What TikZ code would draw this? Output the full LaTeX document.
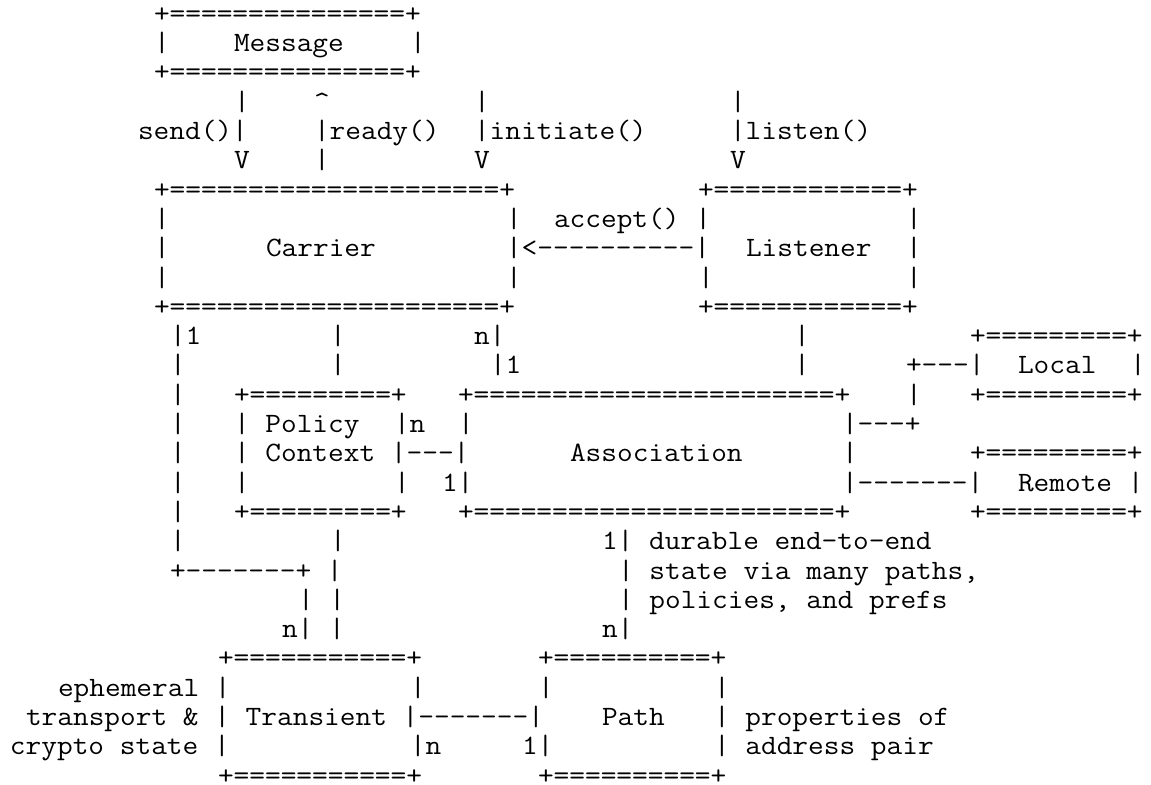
\documentclass[tikz,border=0pt]{standalone}
\usepackage{graphicx}
\frenchspacing

% repeat a character run (dashes are split so no dash ligatures form)
\ExplSyntaxOn
\cs_new:Npn \hrun #1#2 { \prg_replicate:nn {#1} {#2} }
\ExplSyntaxOff
\newcommand\eqs[1]{\hrun{#1}{=}}
\newcommand\dashes[1]{\hrun{#1}{-{}}}

% one run of monospaced text, placed on a character grid:
% #1 name, #2 column, #3 row, #4 text
\tikzset{
  seg/.style={anchor=base west, inner sep=0pt, outer sep=0pt,
              font=\ttfamily\fontsize{14pt}{14pt}\selectfont, text=black}
}
\newcommand\asciiseg[4]{%
  \node[seg] (#1) at ({10+16*(#2)},{22.4+29.3*(#3)}) {\scalebox{1.0884}[1]{#4}};}

\begin{document}
\begin{tikzpicture}[x=0.5pt,y=-0.5pt]
\fill[white] (0,0) rectangle (1151,785);
\useasboundingbox (0,0) rectangle (1151,785);

% Message
\asciiseg{t0-9}{9}{0}{+\eqs{15}+}
\asciiseg{t1-9}{9}{1}{|}
\asciiseg{t1-14}{14}{1}{Message}
\asciiseg{t1-25}{25}{1}{|}
\asciiseg{t2-9}{9}{2}{+\eqs{15}+}

% calls between Message, Carrier and Listener
\asciiseg{t3-14}{14}{3}{|}
\asciiseg{t3-19}{19}{3}{\textasciicircum}
\asciiseg{t3-29}{29}{3}{|}
\asciiseg{t3-45}{45}{3}{|}
\asciiseg{t4-8}{8}{4}{send()|}
\asciiseg{t4-19}{19}{4}{|ready()}
\asciiseg{t4-29}{29}{4}{|initiate()}
\asciiseg{t4-45}{45}{4}{|listen()}
\asciiseg{t5-14}{14}{5}{V}
\asciiseg{t5-19}{19}{5}{|}
\asciiseg{t5-29}{29}{5}{V}
\asciiseg{t5-45}{45}{5}{V}

% Carrier and Listener
\asciiseg{t6-9}{9}{6}{+\eqs{21}+}
\asciiseg{t6-43}{43}{6}{+\eqs{12}+}
\asciiseg{t7-9}{9}{7}{|}
\asciiseg{t7-31}{31}{7}{|}
\asciiseg{t7-34}{34}{7}{accept() |}
\asciiseg{t7-56}{56}{7}{|}
\asciiseg{t8-9}{9}{8}{|}
\asciiseg{t8-16}{16}{8}{Carrier}
\asciiseg{t8-31}{31}{8}{|<\dashes{10}|}
\asciiseg{t8-46}{46}{8}{Listener}
\asciiseg{t8-56}{56}{8}{|}
\asciiseg{t9-9}{9}{9}{|}
\asciiseg{t9-31}{31}{9}{|}
\asciiseg{t9-43}{43}{9}{|}
\asciiseg{t9-56}{56}{9}{|}
\asciiseg{t10-9}{9}{10}{+\eqs{21}+}
\asciiseg{t10-43}{43}{10}{+\eqs{12}+}

% links down to Policy Context, Association, Local
\asciiseg{t11-10}{10}{11}{|1}
\asciiseg{t11-20}{20}{11}{|}
\asciiseg{t11-29}{29}{11}{n|}
\asciiseg{t11-49}{49}{11}{|}
\asciiseg{t11-60}{60}{11}{+\eqs{9}+}
\asciiseg{t12-10}{10}{12}{|}
\asciiseg{t12-20}{20}{12}{|}
\asciiseg{t12-30}{30}{12}{|1}
\asciiseg{t12-49}{49}{12}{|}
\asciiseg{t12-56}{56}{12}{+\dashes{3}|}
\asciiseg{t12-63}{63}{12}{Local}
\asciiseg{t12-70}{70}{12}{|}

% Policy Context, Association, Remote
\asciiseg{t13-10}{10}{13}{|}
\asciiseg{t13-14}{14}{13}{+\eqs{9}+}
\asciiseg{t13-28}{28}{13}{+\eqs{23}+}
\asciiseg{t13-56}{56}{13}{|}
\asciiseg{t13-60}{60}{13}{+\eqs{9}+}
\asciiseg{t14-10}{10}{14}{|}
\asciiseg{t14-14}{14}{14}{| Policy}
\asciiseg{t14-24}{24}{14}{|n}
\asciiseg{t14-28}{28}{14}{|}
\asciiseg{t14-52}{52}{14}{|\dashes{3}+}
\asciiseg{t15-10}{10}{15}{|}
\asciiseg{t15-14}{14}{15}{| Context |\dashes{3}|}
\asciiseg{t15-35}{35}{15}{Association}
\asciiseg{t15-52}{52}{15}{|}
\asciiseg{t15-60}{60}{15}{+\eqs{9}+}
\asciiseg{t16-10}{10}{16}{|}
\asciiseg{t16-14}{14}{16}{|}
\asciiseg{t16-24}{24}{16}{|}
\asciiseg{t16-27}{27}{16}{1|}
\asciiseg{t16-52}{52}{16}{|\dashes{7}|}
\asciiseg{t16-63}{63}{16}{Remote |}
\asciiseg{t17-10}{10}{17}{|}
\asciiseg{t17-14}{14}{17}{+\eqs{9}+}
\asciiseg{t17-28}{28}{17}{+\eqs{23}+}
\asciiseg{t17-60}{60}{17}{+\eqs{9}+}

% links down to Transient and Path
\asciiseg{t18-10}{10}{18}{|}
\asciiseg{t18-20}{20}{18}{|}
\asciiseg{t18-37}{37}{18}{1| durable end-to-end}
\asciiseg{t19-10}{10}{19}{+\dashes{7}+ |}
\asciiseg{t19-38}{38}{19}{| state via many paths,}
\asciiseg{t20-18}{18}{20}{| |}
\asciiseg{t20-38}{38}{20}{| policies, and prefs}
\asciiseg{t21-17}{17}{21}{n| |}
\asciiseg{t21-37}{37}{21}{n|}

% Transient and Path
\asciiseg{t22-13}{13}{22}{+\eqs{11}+}
\asciiseg{t22-33}{33}{22}{+\eqs{10}+}
\asciiseg{t23-3}{3}{23}{ephemeral |}
\asciiseg{t23-25}{25}{23}{|}
\asciiseg{t23-33}{33}{23}{|}
\asciiseg{t23-44}{44}{23}{|}
\asciiseg{t24-1}{1}{24}{transport \& | Transient |\dashes{7}|}
\asciiseg{t24-37}{37}{24}{Path}
\asciiseg{t24-44}{44}{24}{| properties of}
\asciiseg{t25-0}{0}{25}{crypto state |}
\asciiseg{t25-25}{25}{25}{|n}
\asciiseg{t25-32}{32}{25}{1|}
\asciiseg{t25-44}{44}{25}{| address pair}
\asciiseg{t26-13}{13}{26}{+\eqs{11}+}
\asciiseg{t26-33}{33}{26}{+\eqs{10}+}
\end{tikzpicture}
\end{document}
